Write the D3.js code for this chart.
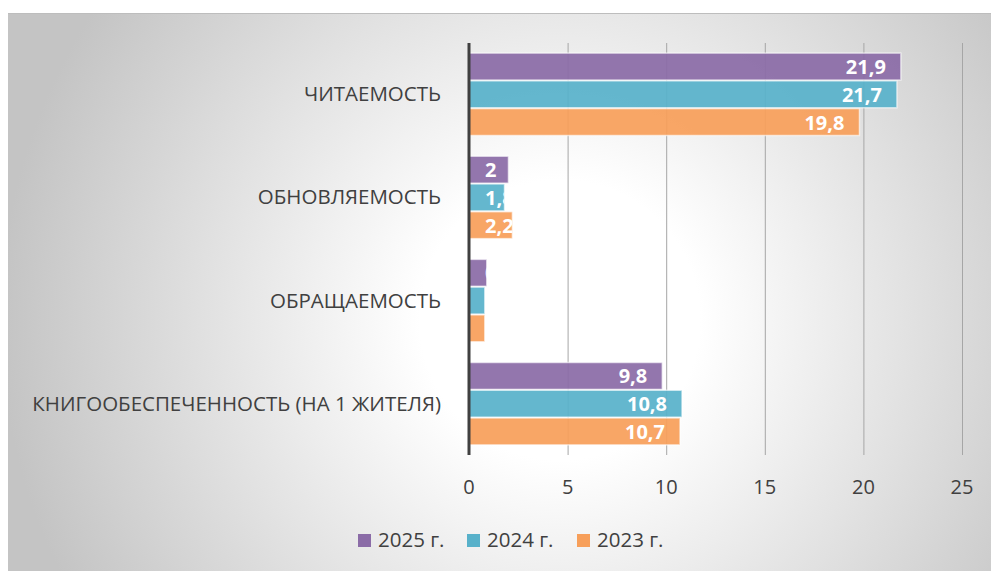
<!DOCTYPE html>
<html>
<head>
<meta charset="utf-8">
<script src="https://cdn.jsdelivr.net/npm/d3@7"></script>
<style>
  html, body { margin: 0; padding: 0; background: #fff; }
  svg { display: block; font-family: "Open Sans", "Noto Sans", sans-serif; }
</style>
</head>
<body>
<div id="chart"></div>
<script>
// categories (top to bottom) and series values
const categories = ['ЧИТАЕМОСТЬ', 'ОБНОВЛЯЕМОСТЬ', 'ОБРАЩАЕМОСТЬ', 'КНИГООБЕСПЕЧЕННОСТЬ (НА 1 ЖИТЕЛЯ)'];
const seriesNames = ['2025 г.', '2024 г.', '2023 г.'];
const values2025 = [21.9, 2, 0.9, 9.8];
const values2024 = [21.7, 1.8, 0.8, 10.8];
const values2023 = [19.8, 2.2, 0.8, 10.7];
const xTicks = [0, 5, 10, 15, 20, 25];
const colors = ['#8b6ca7', '#58b1ca', '#f79f5a'];

const width = 991, height = 571;
const margin = { left: 469, right: 29, top: 43, bottom: 116 };
const fontSize = '20.5px';

const svg = d3.select('#chart').append('svg')
    .attr('width', width)
    .attr('height', height);

const defs = svg.append('defs');
const bg = defs.append('radialGradient')
    .attr('id', 'bg')
    .attr('gradientUnits', 'userSpaceOnUse')
    .attr('cx', 560).attr('cy', 320).attr('r', 560);
bg.append('stop').attr('offset', '0%').attr('stop-color', '#ffffff');
bg.append('stop').attr('offset', '25%').attr('stop-color', '#ffffff');
bg.append('stop').attr('offset', '100%').attr('stop-color', '#c4c4c4');

// chart area background
svg.append('rect')
    .attr('x', 8).attr('y', 13)
    .attr('width', width - 8).attr('height', height - 13)
    .attr('fill', 'url(#bg)');
svg.append('line')
    .attr('x1', 8).attr('x2', width)
    .attr('y1', 13.5).attr('y2', 13.5)
    .attr('stroke', '#bdbdbd').attr('stroke-width', 1);

const x = d3.scaleLinear()
    .domain([0, 25])
    .range([margin.left, width - margin.right]);

const y = d3.scaleBand()
    .domain(categories)
    .range([margin.top, height - margin.bottom])
    .paddingInner(0.185)
    .paddingOuter(0.09);

const ySub = d3.scaleBand()
    .domain(seriesNames)
    .range([0, y.bandwidth()])
    .padding(0.03);

// gridlines
svg.append('g')
    .selectAll('line')
    .data(xTicks.filter(d => d > 0))
    .enter()
    .append('line')
    .attr('x1', d => x(d) + 0.5)
    .attr('x2', d => x(d) + 0.5)
    .attr('y1', margin.top)
    .attr('y2', height - margin.bottom)
    .attr('stroke', '#a6a6a6')
    .attr('stroke-width', 1);

// x tick labels
svg.append('g')
    .selectAll('text')
    .data(xTicks)
    .enter()
    .append('text')
    .attr('x', d => x(d))
    .attr('y', 494)
    .attr('text-anchor', 'middle')
    .attr('fill', '#404040')
    .attr('font-size', '20px')
    .text(d => d);

// category labels
svg.append('g')
    .selectAll('text')
    .data(categories)
    .enter()
    .append('text')
    .attr('x', 441)
    .attr('y', d => y(d) + y.bandwidth() / 2 + 7)
    .attr('text-anchor', 'end')
    .attr('fill', '#404040')
    .attr('font-size', fontSize)
    .text(d => d);

// bars
const seriesData = [values2025, values2024, values2023];
const rows = [];
categories.forEach((c, ci) => {
    seriesNames.forEach((s, si) => {
        rows.push({ cat: c, series: s, si: si, value: seriesData[si][ci], id: `clip-${ci}-${si}` });
    });
});

rows.forEach(d => {
    defs.append('clipPath')
        .attr('id', d.id)
        .append('rect')
        .attr('x', x(0))
        .attr('y', y(d.cat) + ySub(d.series))
        .attr('width', x(d.value) - x(0))
        .attr('height', ySub.bandwidth());
});

const barGroups = svg.append('g')
    .selectAll('g')
    .data(rows)
    .enter()
    .append('g');

barGroups.append('rect')
    .attr('x', x(0))
    .attr('y', d => y(d.cat) + ySub(d.series))
    .attr('width', d => x(d.value) - x(0))
    .attr('height', ySub.bandwidth())
    .attr('fill', d => colors[d.si])
    .attr('fill-opacity', 0.93)
    .attr('stroke', 'rgba(255,255,255,0.6)')
    .attr('stroke-width', 1.5);

// value labels: inside end, but pushed right and clipped when the bar is short
barGroups.append('text')
    .attr('clip-path', d => `url(#${d.id})`)
    .attr('y', d => y(d.cat) + ySub(d.series) + ySub.bandwidth() / 2 + 7.5)
    .attr('fill', '#ffffff')
    .attr('font-size', '20px')
    .attr('font-weight', 'bold')
    .text(d => String(d.value).replace('.', ','))
    .each(function(d) {
        const w = this.getComputedTextLength();
        const start = Math.max(x(d.value) - 15 - w, x(0) + 16);
        d3.select(this).attr('x', start);
    });

// vertical axis line
svg.append('line')
    .attr('x1', x(0)).attr('x2', x(0))
    .attr('y1', margin.top).attr('y2', height - margin.bottom)
    .attr('stroke', '#404040')
    .attr('stroke-width', 3);

// legend
const legend = svg.append('g')
    .attr('transform', 'translate(358, 540)');

const legendX = [0, 109, 219];

const legendItems = legend.selectAll('g')
    .data(seriesNames)
    .enter()
    .append('g')
    .attr('transform', (d, i) => `translate(${legendX[i]}, 0)`);

legendItems.append('rect')
    .attr('x', 0).attr('y', -6)
    .attr('width', 13).attr('height', 13)
    .attr('fill', (d, i) => colors[i]);

legendItems.append('text')
    .attr('x', 20)
    .attr('y', 7)
    .attr('fill', '#404040')
    .attr('font-size', fontSize)
    .text(d => d);
</script>
</body>
</html>
